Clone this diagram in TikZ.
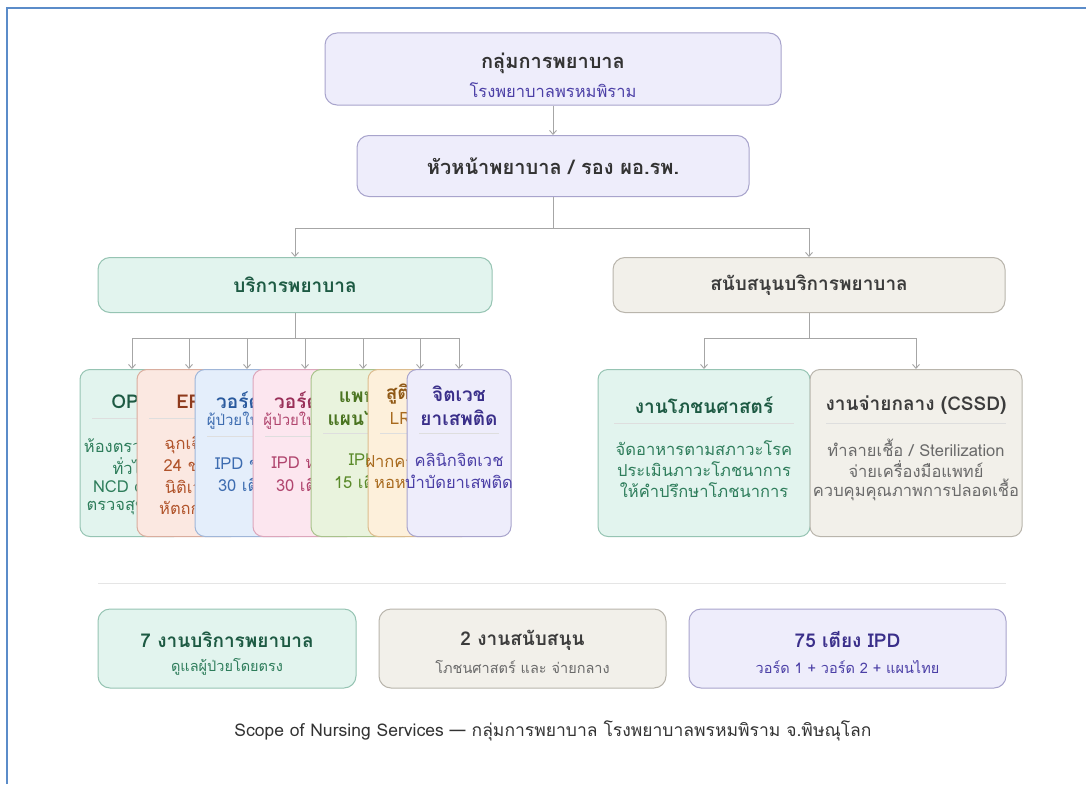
\documentclass[tikz,border=0pt]{standalone}
\usepackage{fontspec}
\setmainfont[Script=Thai]{Loma}
\usetikzlibrary{arrows.meta}
\definecolor{lavfill}{HTML}{EEEDFB}
\definecolor{lavdraw}{HTML}{A8A4CC}
\definecolor{lavtext}{HTML}{4B3FA6}
\definecolor{lavdark}{HTML}{3A2F8A}
\definecolor{minfill}{HTML}{E2F4EE}
\definecolor{mindraw}{HTML}{96C4B3}
\definecolor{mintext}{HTML}{2E7D5B}
\definecolor{mindark}{HTML}{1D5A43}
\definecolor{begfill}{HTML}{F2F0EA}
\definecolor{begdraw}{HTML}{B9B5AC}
\definecolor{begtext}{HTML}{6A6A6A}
\definecolor{begdark}{HTML}{3C3C3C}
\definecolor{perfill}{HTML}{FBE8E1}
\definecolor{perdraw}{HTML}{D9AD9E}
\definecolor{pertext}{HTML}{B0532A}
\definecolor{perdark}{HTML}{8E3A1C}
\definecolor{blufill}{HTML}{E4EEFB}
\definecolor{bludraw}{HTML}{A0B6D8}
\definecolor{blutext}{HTML}{3D6CB0}
\definecolor{bludark}{HTML}{2A5A9E}
\definecolor{pinfill}{HTML}{FCE6EF}
\definecolor{pindraw}{HTML}{DCA6BB}
\definecolor{pintext}{HTML}{B0456E}
\definecolor{pindark}{HTML}{992F58}
\definecolor{grnfill}{HTML}{E9F3DD}
\definecolor{grndraw}{HTML}{A9C28C}
\definecolor{grntext}{HTML}{5A8A2A}
\definecolor{grndark}{HTML}{4A7420}
\definecolor{orafill}{HTML}{FDF0DB}
\definecolor{oradraw}{HTML}{DCBC8E}
\definecolor{oratext}{HTML}{A86A1E}
\definecolor{oradark}{HTML}{8F5815}
\definecolor{frame}{HTML}{5B8CC9}
\definecolor{conn}{HTML}{A6A6A6}
\definecolor{dark}{HTML}{333333}
\begin{document}
\begin{tikzpicture}[x=1pt,y=-1pt,
  box/.style={draw, rounded corners=12pt, line width=1pt, inner sep=0pt},
  card/.style={draw, rounded corners=10pt, line width=1pt, minimum width=104pt, minimum height=167pt, anchor=north, inner sep=0pt},
  wcard/.style={card, minimum width=212pt},
  conn/.style={draw=conn, line width=0.9pt},
  arr/.style={conn, -{Straight Barb[length=4pt,width=7pt]}},
  big/.style={font=\fontsize{20}{22}\selectfont\bfseries, inner sep=0pt},
  lvl/.style={font=\fontsize{19}{21}\selectfont\bfseries, inner sep=0pt},
  mid/.style={font=\fontsize{14.5}{16}\selectfont, inner sep=0pt},
  ctitle/.style={font=\fontsize{19}{21}\selectfont\bfseries, inner sep=0pt},
  csub/.style={font=\fontsize{15}{17}\selectfont, inner sep=0pt},
  cbody/.style={font=\fontsize{16.5}{18}\selectfont, inner sep=0pt},
  sep/.style={draw=black!13, line width=0.8pt}]
\useasboundingbox (0,0) rectangle (1086,784);
\fill[white] (0,0) rectangle (1086,784);
\draw[frame, line width=2pt] (7,784) -- (7,8) -- (1086,8);

% top levels
\node[box, fill=lavfill, draw=lavdraw, minimum width=456pt, minimum height=72pt] (top) at (553,69) {};
\node[big, text=dark] (topt) at (553,63) {กลุ่มการพยาบาล};
\node[font=\fontsize{16.5}{18}\selectfont, inner sep=0pt, text=lavtext] (tops) at (553,90) {โรงพยาบาลพรหมพิราม};
\node[box, fill=lavfill, draw=lavdraw, minimum width=392pt, minimum height=61pt] (head) at (553,166) {};
\node[big, text=dark] (headt) at (553,166) {หัวหน้าพยาบาล / รอง ผอ.รพ.};
\draw[arr] (top.south) -- (head.north);

\node[box, fill=minfill, draw=mindraw, minimum width=394pt, minimum height=55pt] (svc) at (295,285) {};
\node[lvl, text=mindark] (svct) at (295,285) {บริการพยาบาล};
\node[box, fill=begfill, draw=begdraw, minimum width=392pt, minimum height=55pt] (sup) at (809,285) {};
\node[lvl, text=begdark] (supt) at (809,285) {สนับสนุนบริการพยาบาล};

\coordinate (j1) at (553,228);
\draw[conn] (head.south) -- (j1);
\draw[conn] (svc.north |- j1) -- (sup.north |- j1);
\draw[arr] (svc.north |- j1) -- (svc.north);
\draw[arr] (sup.north |- j1) -- (sup.north);

% card anchors
\coordinate (j2) at (295,338);
\coordinate (k1) at (132,369);
\coordinate (k7) at (459,369);
\draw[conn] (svc.south) -- (j2);
\draw[conn] (k1 |- j2) -- (k7 |- j2);
\foreach \x in {132,189,247,305,363,420,459} {
  \draw[arr] (\x,338) -- (\x,369);
}
\coordinate (j3) at (809,338);
\draw[conn] (sup.south) -- (j3);
\draw[conn] (704,338) -- (916,338);
\draw[arr] (704,338) -- (704,369);
\draw[arr] (916,338) -- (916,369);

% OPD
\node[card, fill=minfill, draw=mindraw] (c1) at (132,369) {};
\node[ctitle, text=mindark] (c1t) at (132,402) {OPD};
\draw[sep] (92,418) -- (172,418);
\node[cbody, text=mintext] (c1a) at (132,445) {ห้องตรวจโรค};
\node[cbody, text=mintext] (c1b) at (132,466) {ทั่วไป};
\node[cbody, text=mintext] (c1c) at (132,487) {NCD clinic};
\node[cbody, text=mintext] (c1d) at (132,508) {ตรวจสุขภาพ};
% ER
\node[card, fill=perfill, draw=perdraw] (c2) at (189,369) {};
\node[ctitle, text=perdark] (c2t) at (189,402) {ER};
\draw[sep] (149,418) -- (229,418);
\node[cbody, text=pertext] (c2a) at (189,445) {ฉุกเฉิน};
\node[cbody, text=pertext] (c2b) at (189,466) {24 ชม.};
\node[cbody, text=pertext] (c2c) at (189,487) {นิติเวช};
\node[cbody, text=pertext] (c2d) at (189,508) {หัตถการ};
% Ward 1
\node[card, fill=blufill, draw=bludraw] (c3) at (247,369) {};
\node[ctitle, text=bludark] (c3t) at (247,400) {วอร์ด 1};
\node[csub, text=blutext] (c3s) at (247,421) {ผู้ป่วยในชาย};
\draw[sep] (207,436) -- (287,436);
\node[cbody, text=blutext] (c3a) at (247,464) {IPD ชาย};
\node[cbody, text=blutext] (c3b) at (247,485) {30 เตียง};
% Ward 2
\node[card, fill=pinfill, draw=pindraw] (c4) at (305,369) {};
\node[ctitle, text=pindark] (c4t) at (305,400) {วอร์ด 2};
\node[csub, text=pintext] (c4s) at (305,421) {ผู้ป่วยในหญิง};
\draw[sep] (265,436) -- (345,436);
\node[cbody, text=pintext] (c4a) at (305,464) {IPD หญิง};
\node[cbody, text=pintext] (c4b) at (305,485) {30 เตียง};
% Thai traditional medicine
\node[card, fill=grnfill, draw=grndraw] (c5) at (363,369) {};
\node[ctitle, text=grndark] (c5t) at (363,394) {แพทย์};
\node[ctitle, text=grndark] (c5u) at (363,418) {แผนไทย};
\draw[sep] (323,433) -- (403,433);
\node[cbody, text=grntext] (c5a) at (363,460) {IPD};
\node[cbody, text=grntext] (c5b) at (363,482) {15 เตียง};
% LR
\node[card, fill=orafill, draw=oradraw] (c6) at (420,369) {};
\node[ctitle, text=oradark] (c6t) at (420,394) {สูติกรรม};
\node[csub, text=oratext, font=\fontsize{17}{19}\selectfont] (c6s) at (420,418) {LR / PP};
\draw[sep] (380,433) -- (460,433);
\node[cbody, text=oratext] (c6a) at (420,460) {ฝากครรภ์ ANC};
\node[cbody, text=oratext] (c6b) at (420,482) {หอหลังคลอด};
% Psychiatry
\node[card, fill=lavfill, draw=lavdraw] (c7) at (459,369) {};
\node[ctitle, text=lavdark] (c7t) at (459,394) {จิตเวช};
\node[ctitle, text=lavdark] (c7u) at (459,418) {ยาเสพติด};
\draw[sep] (419,433) -- (499,433);
\node[cbody, text=lavtext] (c7a) at (459,460) {คลินิกจิตเวช};
\node[cbody, text=lavtext] (c7b) at (459,482) {บำบัดยาเสพติด};

% Support cards
\node[wcard, fill=minfill, draw=mindraw] (nut) at (704,369) {};
\node[ctitle, text=mindark] (nutt) at (704,405) {งานโภชนศาสตร์};
\draw[sep] (614,423) -- (794,423);
\node[cbody, text=mintext] (nuta) at (704,448) {จัดอาหารตามสภาวะโรค};
\node[cbody, text=mintext] (nutb) at (704,469) {ประเมินภาวะโภชนาการ};
\node[cbody, text=mintext] (nutc) at (704,490) {ให้คำปรึกษาโภชนาการ};
\node[wcard, fill=begfill, draw=begdraw] (cssd) at (916,369) {};
\node[ctitle, text=begdark] (cssdt) at (916,405) {งานจ่ายกลาง (CSSD)};
\draw[sep] (826,423) -- (1006,423);
\node[cbody, text=begtext] (cssda) at (916,448) {ทำลายเชื้อ / Sterilization};
\node[cbody, text=begtext] (cssdb) at (916,469) {จ่ายเครื่องมือแพทย์};
\node[cbody, text=begtext] (cssdc) at (916,490) {ควบคุมคุณภาพการปลอดเชื้อ};

% divider
\draw[draw=black!10, line width=1pt] (98,583) -- (1006,583);

% summary boxes
\node[box, fill=minfill, draw=mindraw, minimum width=258pt, minimum height=79pt] (b1) at (227,648.5) {};
\node[lvl, text=mindark] (b1t) at (227,640) {7 งานบริการพยาบาล};
\node[mid, text=mintext] (b1s) at (227,667) {ดูแลผู้ป่วยโดยตรง};
\node[box, fill=begfill, draw=begdraw, minimum width=287pt, minimum height=79pt] (b2) at (522.5,648.5) {};
\node[lvl, text=begdark] (b2t) at (522.5,640) {2 งานสนับสนุน};
\node[mid, text=begtext] (b2s) at (522.5,667) {โภชนศาสตร์ และ จ่ายกลาง};
\node[box, fill=lavfill, draw=lavdraw, minimum width=317pt, minimum height=79pt] (b3) at (847.5,648.5) {};
\node[lvl, text=lavdark] (b3t) at (847.5,640) {75 เตียง IPD};
\node[mid, text=lavtext] (b3s) at (847.5,667) {วอร์ด 1 + วอร์ด 2 + แผนไทย};

\node[font=\fontsize{17.5}{19}\selectfont, text=dark, inner sep=0pt] (cap) at (553,731) {Scope of Nursing Services — กลุ่มการพยาบาล โรงพยาบาลพรหมพิราม จ.พิษณุโลก};
\end{tikzpicture}
\end{document}
